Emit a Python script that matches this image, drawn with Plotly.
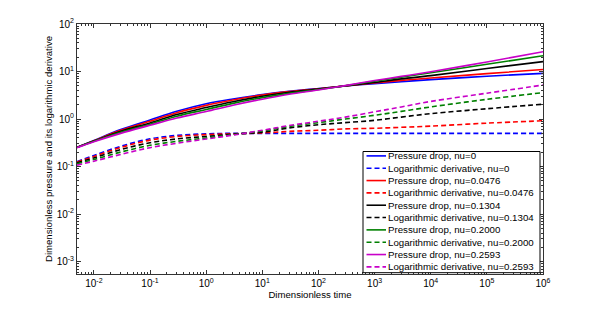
import plotly.graph_objects as go
import numpy as np

# ---------------- data ----------------
t = [0.005, 0.01, 0.03, 0.1, 0.3, 1, 3, 10, 30, 100, 300, 1e3, 3e3, 1e4, 1e5, 1e6]

nu_labels = ["0", "0.0476", "0.1304", "0.2000", "0.2593"]
colors = ["#0000ff", "#ff0000", "#000000", "#008000", "#c800c8"]

p_nu0 = [0.255, 0.355, 0.600, 0.96, 1.46, 2.10, 2.65, 3.27, 3.83, 4.41, 4.96, 5.56, 6.10, 6.75, 7.95, 9.15]
p_nu1 = [0.255, 0.350, 0.580, 0.90, 1.36, 1.94, 2.52, 3.20, 3.78, 4.35, 4.98, 5.75, 6.50, 7.30, 9.05, 11.0]
p_nu2 = [0.255, 0.345, 0.555, 0.83, 1.25, 1.75, 2.32, 3.02, 3.65, 4.28, 5.00, 5.90, 7.00, 8.20, 11.6, 16.2]
p_nu3 = [0.252, 0.340, 0.525, 0.78, 1.15, 1.59, 2.14, 2.82, 3.47, 4.18, 5.03, 6.25, 7.60, 9.40, 14.2, 21.5]
p_nu4 = [0.250, 0.334, 0.500, 0.74, 1.05, 1.44, 1.95, 2.62, 3.32, 4.10, 5.06, 6.45, 7.90, 9.90, 15.9, 26.0]

d_nu0 = [0.128, 0.172, 0.267, 0.384, 0.453, 0.49, 0.50, 0.50, 0.50, 0.50, 0.50, 0.50, 0.50, 0.50, 0.50, 0.50]
d_nu1 = [0.125, 0.163, 0.252, 0.360, 0.430, 0.47, 0.49, 0.51, 0.55, 0.58, 0.62, 0.64, 0.67, 0.71, 0.82, 0.92]
d_nu2 = [0.120, 0.152, 0.228, 0.318, 0.382, 0.43, 0.48, 0.53, 0.65, 0.76, 0.84, 0.94, 1.10, 1.30, 1.65, 2.05]
d_nu3 = [0.115, 0.141, 0.202, 0.280, 0.340, 0.40, 0.47, 0.56, 0.70, 0.84, 1.00, 1.20, 1.45, 1.80, 2.60, 3.60]
d_nu4 = [0.107, 0.130, 0.180, 0.250, 0.310, 0.38, 0.46, 0.58, 0.73, 0.90, 1.10, 1.42, 1.80, 2.35, 3.50, 5.20]

pressure = [p_nu0, p_nu1, p_nu2, p_nu3, p_nu4]
derivative = [d_nu0, d_nu1, d_nu2, d_nu3, d_nu4]

x_tick_vals = [1e-2, 1e-1, 1e0, 1e1, 1e2, 1e3, 1e4, 1e5, 1e6]
x_tick_text = ["10<sup>-2</sup>", "10<sup>-1</sup>", "10<sup>0</sup>", "10<sup>1</sup>", "10<sup>2</sup>",
               "10<sup>3</sup>", "10<sup>4</sup>", "10<sup>5</sup>", "10<sup>6</sup>"]
y_tick_vals = [1e-3, 1e-2, 1e-1, 1e0, 1e1, 1e2]
y_tick_text = ["10<sup>-3</sup>", "10<sup>-2</sup>", "10<sup>-1</sup>", "10<sup>0</sup>",
               "10<sup>1</sup>", "10<sup>2</sup>"]

# ---------------- figure ----------------
W, H = 600, 310
ML, MR, MT, MB = 77, 57, 24, 36
PW, PH = W - ML - MR, H - MT - MB
FONT = "Liberation Sans, Arial, Helvetica, sans-serif"

fig = go.Figure()
names = []
for i, nu in enumerate(nu_labels):
    fig.add_trace(go.Scatter(x=t, y=pressure[i], mode="lines",
                             line=dict(color=colors[i], width=1.6, shape="spline"),
                             name=f"Pressure drop, nu={nu}", showlegend=False))
    fig.add_trace(go.Scatter(x=t, y=derivative[i], mode="lines",
                             line=dict(color=colors[i], width=1.6, dash="5px,3px", shape="spline"),
                             name=f"Logarithmic derivative, nu={nu}", showlegend=False))
    names.append((f"Pressure drop, nu={nu}", colors[i], "solid"))
    names.append((f"Logarithmic derivative, nu={nu}", colors[i], "5px,3px"))

def px2x(px):
    return (px - ML) / PW

def px2y(py):
    return (MT + PH - py) / PH

shapes = []
annotations = []
# legend box
shapes.append(dict(type="rect", xref="paper", yref="paper",
                   x0=px2x(363), x1=px2x(540), y0=px2y(272.7), y1=px2y(151.5),
                   line=dict(color="#000000", width=1), fillcolor="white", layer="above"))
for k, (label, col, dash) in enumerate(names):
    yc = 155.9 + 12.33 * k
    shapes.append(dict(type="line", xref="paper", yref="paper",
                       x0=px2x(366.5), x1=px2x(386), y0=px2y(yc), y1=px2y(yc),
                       line=dict(color=col, width=1.6, dash=dash), layer="above"))
    annotations.append(dict(xref="paper", yref="paper", x=px2x(386.8), y=px2y(yc),
                            xanchor="left", yanchor="middle", showarrow=False, borderpad=0,
                            text=label, font=dict(family=FONT, size=9.7, color="#000000")))

axis_common = dict(type="log", showgrid=False, zeroline=False, automargin=False,
                   showline=True, linecolor="#333333", linewidth=1, mirror="ticks",
                   ticks="inside", ticklen=4, tickcolor="#333333", tickwidth=1,
                   tickfont=dict(family=FONT, size=10, color="#000000"),
                   minor=dict(ticks="inside", ticklen=2, tickcolor="#333333", dtick="D1", showgrid=False))

fig.update_xaxes(**axis_common, range=[np.log10(0.005), 6], tickvals=x_tick_vals, ticktext=x_tick_text,
                 title=dict(text="Dimensionless time", standoff=2,
                            font=dict(family=FONT, size=9.6, color="#000000")))
fig.update_yaxes(**axis_common, range=[-3.26, 2], tickvals=y_tick_vals, ticktext=y_tick_text,
                 title=dict(text="Dimensionless pressure and its logarithmic derivative", standoff=2,
                            font=dict(family=FONT, size=9.6, color="#000000")))

fig.update_layout(width=W, height=H, margin=dict(l=ML, r=MR, t=MT, b=MB, autoexpand=False),
                  paper_bgcolor="white", plot_bgcolor="white", showlegend=False,
                  shapes=shapes, annotations=annotations,
                  font=dict(family=FONT, size=10, color="#000000"))

fig.write_html("out.html", config={"displayModeBar": False},
               post_script="document.body.style.margin='0';")
